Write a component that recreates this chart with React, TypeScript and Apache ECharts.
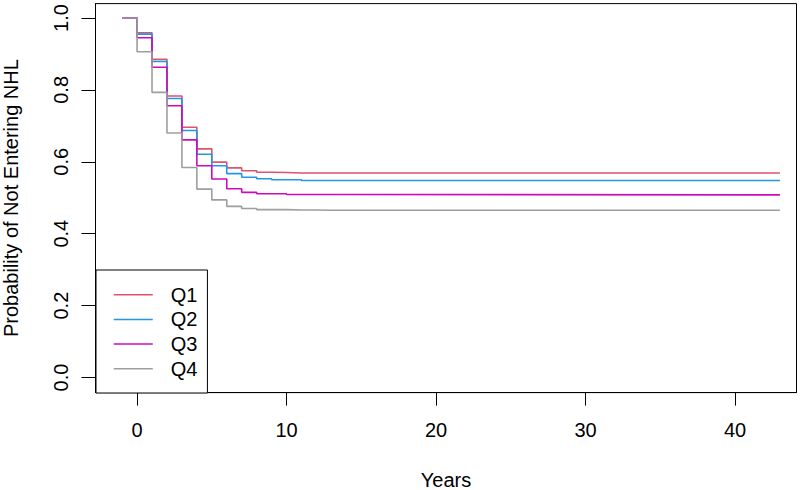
import React, { useEffect, useRef } from "react";
import * as echarts from "echarts";

const times = [-1, 0, 1, 2, 3, 4, 5, 6, 7, 8, 9, 10, 11, 12, 13, 43];
const seriesNames = ["Q1", "Q2", "Q3", "Q4"];
const q1 = [1, 0.959, 0.885, 0.783, 0.696, 0.636, 0.599, 0.583, 0.575, 0.571, 0.57, 0.569, 0.569, 0.569, 0.569, 0.569];
const q2 = [1, 0.955, 0.879, 0.776, 0.687, 0.621, 0.589, 0.567, 0.557, 0.553, 0.55, 0.55, 0.548, 0.548, 0.548, 0.548];
const q3 = [1, 0.945, 0.863, 0.756, 0.661, 0.589, 0.552, 0.525, 0.515, 0.511, 0.511, 0.509, 0.509, 0.509, 0.508, 0.508];
const q4 = [1, 0.906, 0.793, 0.68, 0.584, 0.524, 0.494, 0.476, 0.47, 0.467, 0.467, 0.466, 0.466, 0.465, 0.465, 0.465];
const xTicks = [0, 10, 20, 30, 40];
const yTicks = [0, 0.2, 0.4, 0.6, 0.8, 1.0];
const colors = ["#DF536B", "#2297E6", "#CD0BBC", "#9E9E9E"];

const FONT = "'Liberation Sans', Arial, Helvetica, sans-serif";

export default function App() {
  const ref = useRef<HTMLDivElement>(null);
  useEffect(() => {
    if (!ref.current) return;
    const chart = echarts.init(ref.current, undefined, { renderer: "svg" });
    const allValues = [q1, q2, q3, q4];
    chart.setOption({
      animation: false,
      backgroundColor: "#fff",
      textStyle: { fontFamily: FONT },
      grid: {
        left: 95.5,
        right: 12.5,
        top: 3.6,
        bottom: 97.4,
        containLabel: false,
        outerBoundsMode: "none",
        show: true,
        borderColor: "#000",
        borderWidth: 1,
        backgroundColor: "transparent",
      },
      xAxis: {
        type: "value",
        min: -2.78,
        max: 44.11,
        name: "Years",
        nameLocation: "middle",
        nameGap: 78,
        nameTextStyle: { fontSize: 20, color: "#000", fontFamily: FONT, lineHeight: 18 },
        axisLine: { show: true, onZero: false, lineStyle: { color: "#000", width: 1 } },
        axisTick: { show: true, inside: false, length: 13, lineStyle: { color: "#000", width: 1 }, customValues: xTicks },
        axisLabel: {
          fontSize: 20,
          color: "#000",
          fontFamily: FONT,
          margin: 27,
          lineHeight: 20,
          customValues: xTicks,
          formatter: (v: number) => String(v),
        },
        splitLine: { show: false },
      },
      yAxis: {
        type: "value",
        min: -0.042,
        max: 1.04,
        name: "Probability of Not Entering NHL",
        nameLocation: "middle",
        nameGap: 74.5,
        nameTextStyle: { fontSize: 20, color: "#000", fontFamily: FONT, lineHeight: 20 },
        axisLine: { show: true, onZero: false, lineStyle: { color: "#000", width: 1 } },
        axisTick: { show: true, inside: false, length: 14, lineStyle: { color: "#000", width: 1 }, customValues: yTicks },
        axisLabel: {
          fontSize: 20,
          color: "#000",
          fontFamily: FONT,
          rotate: 90,
          margin: 25,
          lineHeight: 20,
          customValues: yTicks,
          formatter: (v: number) => v.toFixed(1),
        },
        splitLine: { show: false },
      },
      legend: {
        orient: "vertical",
        left: 96,
        top: 270,
        padding: [14.7, 10, 14.2, 17],
        itemWidth: 39,
        itemHeight: 14,
        itemGap: 4.7,
        borderColor: "#000",
        borderWidth: 1,
        backgroundColor: "#fff",
        data: seriesNames,
        itemStyle: { opacity: 0 },
        lineStyle: { width: 1.5 },
        textStyle: { fontSize: 20, color: "#000", fontFamily: FONT, lineHeight: 20, padding: [0, 0, 0, 13] },
      },
      series: seriesNames.map((name, i) => ({
        name,
        type: "line",
        step: "end",
        symbol: "none",
        color: colors[i],
        lineStyle: { width: 1.6, color: colors[i] },
        data: times.map((t, j) => [t, allValues[i][j]]),
      })),
    });
    return () => chart.dispose();
  }, []);
  return <div ref={ref} style={{ position: "fixed", left: 0, top: 0, width: 809, height: 490 }} />;
}
